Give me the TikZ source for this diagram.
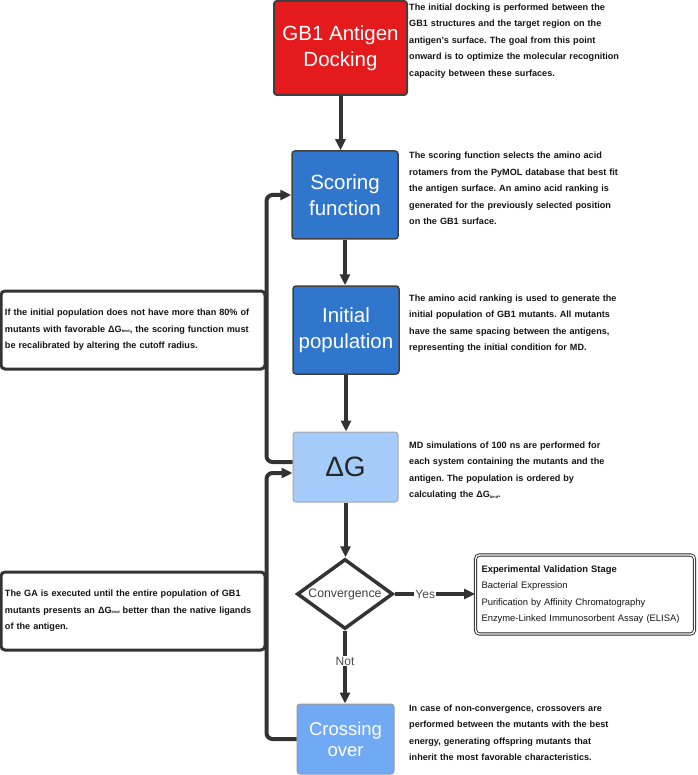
\documentclass[tikz,border=0pt]{standalone}
\usepackage{fontspec}
\setmainfont{Liberation Sans}
\usetikzlibrary{shapes.geometric,arrows.meta}
\definecolor{redbox}{RGB}{228,26,28}
\definecolor{bluebox}{RGB}{49,118,205}
\definecolor{lightbox}{RGB}{164,203,250}
\definecolor{midbox}{RGB}{112,170,245}
\definecolor{linec}{RGB}{51,51,51}
\newcommand{\bsub}{\raisebox{-0.6pt}{\fontsize{3.8}{4}\selectfont bind}}
\frenchspacing
\begin{document}
\begin{tikzpicture}[x=1pt,y=-1pt,
  flowbox/.style={rectangle, rounded corners=3pt, inner sep=0pt, align=center, text=white, font=\fontsize{20.5}{26}\selectfont},
  desc/.style={anchor=base west, inner sep=0pt, text width=285pt, align=left, font=\bfseries\fontsize{9.1}{16.5}\selectfont, text=black!92},
  notebox/.style={draw=linec, line width=3pt, rounded corners=4pt, fill=white, minimum width=264pt, minimum height=78pt, text width=256pt, inner sep=0pt, align=left, font=\bfseries\fontsize{9.1}{16.5}\selectfont, text=black!92},
  arr/.style={draw=linec, line width=4pt, -{Triangle[length=11pt,width=10pt]}},
  lab/.style={fill=white, inner sep=1pt, text=black!70, font=\fontsize{12}{14}\selectfont}]
\useasboundingbox (0,0) rectangle (697,775);

% main flow boxes
\node[flowbox, fill=redbox, draw=black!75, line width=2pt, minimum width=133pt, minimum height=94pt] (red) at (340.5,48) {GB1 Antigen\\Docking};
\node[flowbox, fill=bluebox, draw=black!75, line width=1.5pt, minimum width=106pt, minimum height=88pt] (score) at (345,195) {Scoring\\function};
\node[flowbox, fill=bluebox, draw=black!75, line width=1.5pt, minimum width=106pt, minimum height=88pt] (init) at (346,330) {Initial\\population};
\node[flowbox, fill=lightbox, draw=black!35, line width=1pt, minimum width=105pt, minimum height=70pt, text=black!85, font=\fontsize{28}{30}\selectfont] (dg) at (345.5,467) {ΔG};
\node[diamond, draw=linec, line width=3.5pt, fill=white, aspect=1.37, minimum width=96pt, minimum height=70pt, inner sep=0pt, text=black!75, font=\fontsize{12.3}{14}\selectfont] (conv) at (345,594) {Convergence};
\node[flowbox, fill=midbox, draw=black!40, line width=1pt, minimum width=97pt, minimum height=70pt, font=\fontsize{18.5}{21}\selectfont] (cross) at (345.5,739) {Crossing\\over};

% validation box
\node[draw=black!85, double=white, double distance=1.4pt, line width=0.9pt, rounded corners=4pt, minimum width=219pt, minimum height=79pt, text width=207pt, align=left, inner sep=0pt, font=\fontsize{9.4}{16.3}\selectfont, text=black!92] (valid) at (585,594.5) {\textbf{Experimental Validation Stage}\\Bacterial Expression\\Purification by Affinity Chromatography\\Enzyme-Linked Immunosorbent Assay (ELISA)};

% note boxes
\node[notebox] (note1) at (133,330) {If the initial population does not have more than 80\% of\\mutants with favorable ΔG\bsub, the scoring function must\\be recalibrated by altering the cutoff radius.};
\node[notebox] (note2) at (133,611) {The GA is executed until the entire population of GB1\\mutants presents an ΔG\bsub{} better than the native ligands\\of the antigen.};

% descriptions
\node[desc] (d1) at (409,10.5) {The initial docking is performed between the\\GB1 structures and the target region on the\\antigen's surface. The goal from this point\\onward is to optimize the molecular recognition\\capacity between these surfaces.};
\node[desc] (d2) at (409,159) {The scoring function selects the amino acid\\rotamers from the PyMOL database that best fit\\the antigen surface. An amino acid ranking is\\generated for the previously selected position\\on the GB1 surface.};
\node[desc] (d3) at (409,301) {The amino acid ranking is used to generate the\\initial population of GB1 mutants. All mutants\\have the same spacing between the antigens,\\representing the initial condition for MD.};
\node[desc] (d4) at (409,448) {MD simulations of 100 ns are performed for\\each system containing the mutants and the\\antigen. The population is ordered by\\calculating the ΔG\bsub.};
\node[desc] (d5) at (409,711) {In case of non-convergence, crossovers are\\performed between the mutants with the best\\energy, generating offspring mutants that\\inherit the most favorable characteristics.};

% connectors
\draw[arr] (red.south) -- (red.south |- score.north);
\draw[arr] (score.south) -- (score.south |- init.north);
\draw[arr] (init.south) -- (init.south |- dg.north);
\draw[arr] (dg.south) -- (dg.south |- conv.north);
\draw[arr] (conv.south) -- node[lab, pos=0.42]{Not} (conv.south |- cross.north);
\draw[arr] (conv.east) -- node[lab, pos=0.38]{Yes} (valid.west |- conv.east);

\coordinate (out1) at ([yshift=5pt]dg.west);
\coordinate (in2) at ([yshift=-6pt]dg.west);
\draw[arr, rounded corners=6pt] (out1) -| (note1.east |- score.west) -- (score.west);
\draw[arr, rounded corners=6pt] (cross.west) -| (note2.east |- in2) -- (in2);
\end{tikzpicture}
\end{document}
